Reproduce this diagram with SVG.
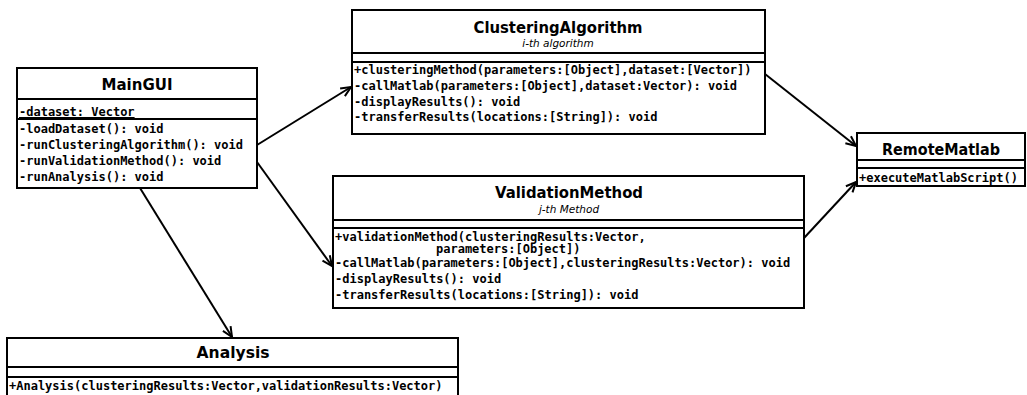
<svg xmlns="http://www.w3.org/2000/svg" width="1027" height="395" viewBox="0 0 1027 395">
<defs>
<style>
.box{fill:#fff;stroke:#000;stroke-width:2}
.sep{stroke:#000;stroke-width:2}
.title{font-family:"DejaVu Sans",sans-serif;font-weight:bold;font-size:15px;text-anchor:middle;fill:#000}
.sub{font-family:"DejaVu Sans",sans-serif;font-style:italic;font-size:10.5px;text-anchor:middle;fill:#000}
.m{font-family:"DejaVu Sans Mono",monospace;font-weight:bold;font-size:12px;fill:#000}
.conn{stroke:#000;stroke-width:2;fill:none}
</style>
<marker id="arr" viewBox="0 0 12 12" refX="11" refY="6" markerWidth="12" markerHeight="12" markerUnits="userSpaceOnUse" orient="auto">
<path d="M1,1.5 L11,6 L1,10.5" fill="none" stroke="#000" stroke-width="2"/>
</marker>
</defs>
<rect width="1027" height="395" fill="#fff"/>

<g id="connectors">
<line class="conn" x1="257" y1="145" x2="351" y2="87" marker-end="url(#arr)"/>
<line class="conn" x1="257" y1="162" x2="332" y2="266" marker-end="url(#arr)"/>
<line class="conn" x1="140" y1="188" x2="232" y2="337" marker-end="url(#arr)"/>
<line class="conn" x1="765" y1="74" x2="856" y2="146" marker-end="url(#arr)"/>
<line class="conn" x1="804" y1="238" x2="856" y2="182" marker-end="url(#arr)"/>
</g>

<g id="MainGUI">
<rect class="box" x="17" y="68" width="240" height="120"/>
<line class="sep" x1="17" y1="99" x2="257" y2="99"/>
<line class="sep" x1="17" y1="119" x2="257" y2="119"/>
<text class="title" x="137" y="90" textLength="71" lengthAdjust="spacingAndGlyphs">MainGUI</text>
<text class="m" x="19" y="116" text-decoration="underline">-dataset: Vector</text>
<text class="m" x="19" y="133">-loadDataset(): void</text>
<text class="m" x="19" y="149">-runClusteringAlgorithm(): void</text>
<text class="m" x="19" y="165">-runValidationMethod(): void</text>
<text class="m" x="19" y="181">-runAnalysis(): void</text>
</g>

<g id="ClusteringAlgorithm">
<rect class="box" x="352" y="10" width="413" height="124"/>
<line class="sep" x1="352" y1="53" x2="765" y2="53"/>
<line class="sep" x1="352" y1="62" x2="765" y2="62"/>
<text class="title" x="558" y="33" textLength="169" lengthAdjust="spacingAndGlyphs">ClusteringAlgorithm</text>
<text class="sub" x="558" y="47">i-th algorithm</text>
<text class="m" x="354" y="74">+clusteringMethod(parameters:[Object],dataset:[Vector])</text>
<text class="m" x="354" y="90">-callMatlab(parameters:[Object],dataset:Vector): void</text>
<text class="m" x="354" y="105.5">-displayResults(): void</text>
<text class="m" x="354" y="121">-transferResults(locations:[String]): void</text>
</g>

<g id="ValidationMethod">
<rect class="box" x="333" y="176" width="471" height="132"/>
<line class="sep" x1="333" y1="220" x2="804" y2="220"/>
<line class="sep" x1="333" y1="228" x2="804" y2="228"/>
<text class="title" x="569" y="198" textLength="148" lengthAdjust="spacingAndGlyphs">ValidationMethod</text>
<text class="sub" x="569" y="213">j-th Method</text>
<text class="m" x="335" y="241">+validationMethod(clusteringResults:Vector,</text>
<text class="m" x="436" y="253">parameters:[Object])</text>
<text class="m" x="335" y="267">-callMatlab(parameters:[Object],clusteringResults:Vector): void</text>
<text class="m" x="335" y="283">-displayResults(): void</text>
<text class="m" x="335" y="299">-transferResults(locations:[String]): void</text>
</g>

<g id="RemoteMatlab">
<rect class="box" x="857" y="133" width="168" height="53"/>
<line class="sep" x1="857" y1="160" x2="1025" y2="160"/>
<line class="sep" x1="857" y1="168" x2="1025" y2="168"/>
<text class="title" x="941" y="155" textLength="118" lengthAdjust="spacingAndGlyphs">RemoteMatlab</text>
<text class="m" x="859" y="182">+executeMatlabScript()</text>
</g>

<g id="Analysis">
<rect class="box" x="7" y="338" width="451" height="70"/>
<line class="sep" x1="7" y1="367" x2="458" y2="367"/>
<line class="sep" x1="7" y1="377" x2="458" y2="377"/>
<text class="title" x="233" y="358" textLength="73" lengthAdjust="spacingAndGlyphs">Analysis</text>
<text class="m" x="9" y="390">+Analysis(clusteringResults:Vector,validationResults:Vector)</text>
</g>
</svg>
